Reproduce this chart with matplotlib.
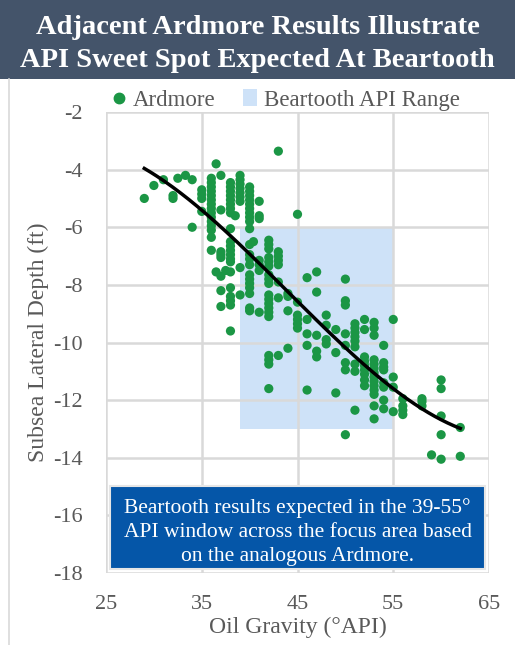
import numpy as np
import matplotlib
matplotlib.use('Agg')
import matplotlib.pyplot as plt
import matplotlib.patches as pat
from matplotlib.lines import Line2D

# Ardmore wells: API gravity -> list of subsea lateral depths
ardmore = {
    29: [-5.0],
    30: [-4.55],
    31: [-4.35],
    32: [-4.9, -5.0],
    32.5: [-4.3],
    33.3: [-4.2],
    34: [-4.35, -6.0],
    35: [-4.7, -4.85, -5.0, -5.45],
    36: [-4.3, -4.45, -4.6, -4.75, -4.9, -5.05, -5.2, -5.35, -5.5, -5.65, -5.8, -5.95, -6.1, -6.35, -6.8],
    36.5: [-3.8, -7.55],
    37: [-4.2, -5.4, -6.85, -6.95, -7.05, -7.7, -8.2, -8.75],
    37.5: [-7.5],
    38: [-4.45, -4.6, -4.75, -4.9, -5.05, -5.2, -5.35, -5.5, -6.05, -6.5, -6.65, -6.8, -6.95, -7.1, -7.2,
         -7.55, -8.1, -8.4, -8.55, -8.7, -9.6],
    38.5: [-5.6],
    39: [-4.2, -4.35, -4.5, -4.65, -4.8, -4.95, -5.1, -7.4, -8.35],
    40: [-4.6, -4.75, -4.9, -5.05, -5.2, -5.35, -5.5, -5.65, -5.8, -6.05, -6.6, -6.95, -7.1, -7.3,
         -7.65, -7.8, -7.95, -8.1, -8.3, -8.8, -8.9],
    40.4: [-6.5],
    41: [-5.1, -5.6, -5.7, -7.15, -7.3, -7.5, -8.95],
    42: [-6.45, -6.6, -6.75, -7.05, -7.2, -7.35, -7.65, -7.8, -7.95, -8.35, -8.5, -8.65, -8.8, -8.95, -9.1,
         -10.45, -10.6, -10.75, -11.6],
    43: [-3.36, -6.85, -7.0, -7.15, -7.3, -7.9, -8.45, -10.45],
    44: [-8.3, -8.4, -8.9, -10.2],
    45: [-5.55, -8.6, -9.05, -9.2, -9.35, -9.5],
    46: [-7.75, -9.2, -9.7, -10.1, -11.65],
    47: [-7.55, -8.25, -9.75, -10.3, -10.5],
    48: [-9.05, -9.4, -9.9, -10.05],
    49: [-9.55, -10.35, -11.75],
    50: [-7.8, -8.55, -8.7, -9.7, -10.1, -10.7, -10.95, -13.2],
    51: [-9.35, -9.5, -9.65, -9.8, -9.95, -10.15, -10.75, -11.0, -12.35],
    52: [-9.2, -9.55, -10.5, -10.65, -10.8, -10.95, -11.1, -11.3, -11.5],
    53: [-9.3, -9.5, -9.75, -10.6, -10.75, -10.9, -11.05, -11.2, -11.35, -11.5, -11.65, -11.8, -12.2, -12.65],
    54: [-10.1, -10.7, -10.85, -10.95, -11.4, -11.55, -12.0, -12.3],
    55: [-9.2, -11.2, -11.55, -12.4],
    56: [-11.95, -12.2, -12.35, -12.5],
    58: [-11.95, -12.05, -12.2],
    59: [-13.9],
    60: [-11.3, -11.6, -12.55, -13.2, -14.05],
    62: [-12.95, -13.95],
}

api = np.array([k for k, v in ardmore.items() for _ in v], dtype=float)
depth = np.array([d for v in ardmore.values() for d in v])

# Beartooth API window
bt_api = [39, 55]
bt_depth = [-13, -6]

title = "Adjacent Ardmore Results Illustrate\nAPI Sweet Spot Expected At Beartooth"
note = ("Beartooth results expected in the 39-55\u00b0\n"
        "API window across the focus area based\n"
        "on the analogous Ardmore.")

green = '#1B9645'
light_blue = '#CEE2F8'
grey_txt = '#595959'

plt.rcParams['font.family'] = ['Liberation Serif', 'DejaVu Serif']
plt.rcParams['axes.unicode_minus'] = False

fig = plt.figure(figsize=(5.15, 6.45), dpi=100)

# title banner
fig.add_artist(pat.Rectangle((0, 1 - 79 / 645), 1, 79 / 645, transform=fig.transFigure,
                             facecolor='#44546A', edgecolor='none'))
fig.text(0.5, 1 - 44 / 645, title, ha='center', va='center', color='white',
         fontsize=20.5, fontweight='bold', linespacing=1.38)
fig.add_artist(Line2D([9 / 515, 9 / 515], [0, 1 - 79 / 645], transform=fig.transFigure,
                      color='#D9D9D9', lw=1.2))

ax = fig.add_axes([106 / 515, 1 - 573 / 645, 383 / 515, 461 / 645])

ax.add_patch(pat.Rectangle((bt_api[0], bt_depth[0]), bt_api[1] - bt_api[0], bt_depth[1] - bt_depth[0],
                           facecolor=light_blue, edgecolor='none', zorder=1, label='Beartooth API Range'))
ax.scatter(api, depth, s=44, color=green, edgecolors='none', zorder=3, label='Ardmore')

# 3rd order trend of the Ardmore points
coef = np.polyfit(api, depth, 3)
xs = np.linspace(api.min(), api.max(), 200)
ax.plot(xs, np.polyval(coef, xs), color='black', lw=2.5, zorder=4)

ax.set_xlim(25, 65)
ax.set_ylim(-18, -2)
ax.set_xticks([25, 35, 45, 55, 65])
ax.set_yticks(range(-18, -1, 2))
ax.set_axisbelow('line')
ax.grid(True, color='#D9D9D9', lw=1.8)
for s in ax.spines.values():
    s.set_visible(False)
ax.tick_params(length=0, labelsize=16, labelcolor=grey_txt)
ax.tick_params(axis='x', pad=16)
ax.tick_params(axis='y', pad=17)
ax.set_xlabel('Oil Gravity (\u00b0API)', fontsize=17, color=grey_txt, labelpad=2)
ax.set_ylabel('Subsea Lateral Depth (ft)', fontsize=17, color=grey_txt, labelpad=3)

leg = ax.legend(handles=[Line2D([], [], marker='o', ls='none', color=green, markersize=7.5, label='Ardmore'),
                         pat.Patch(facecolor=light_blue, label='Beartooth API Range')],
                loc='center', bbox_to_anchor=(0.47, 1.026), ncol=2, frameon=False,
                fontsize=16.5, handlelength=0.6, handletextpad=0.3, columnspacing=1.2,
                borderaxespad=0.0)
for t in leg.get_texts():
    t.set_color(grey_txt)

# note box
ax.add_patch(pat.Rectangle((0.0104, 0.0087), 0.979, 0.18, transform=ax.transAxes,
                           facecolor='#0556A8', edgecolor='#E6E6E6', lw=1.5, zorder=5))
ax.text(0.5, 0.0087 + 0.081, note, transform=ax.transAxes, ha='center', va='center',
        color='white', fontsize=15.5, linespacing=1.36, zorder=6)

fig.savefig('out.png', dpi=100)
